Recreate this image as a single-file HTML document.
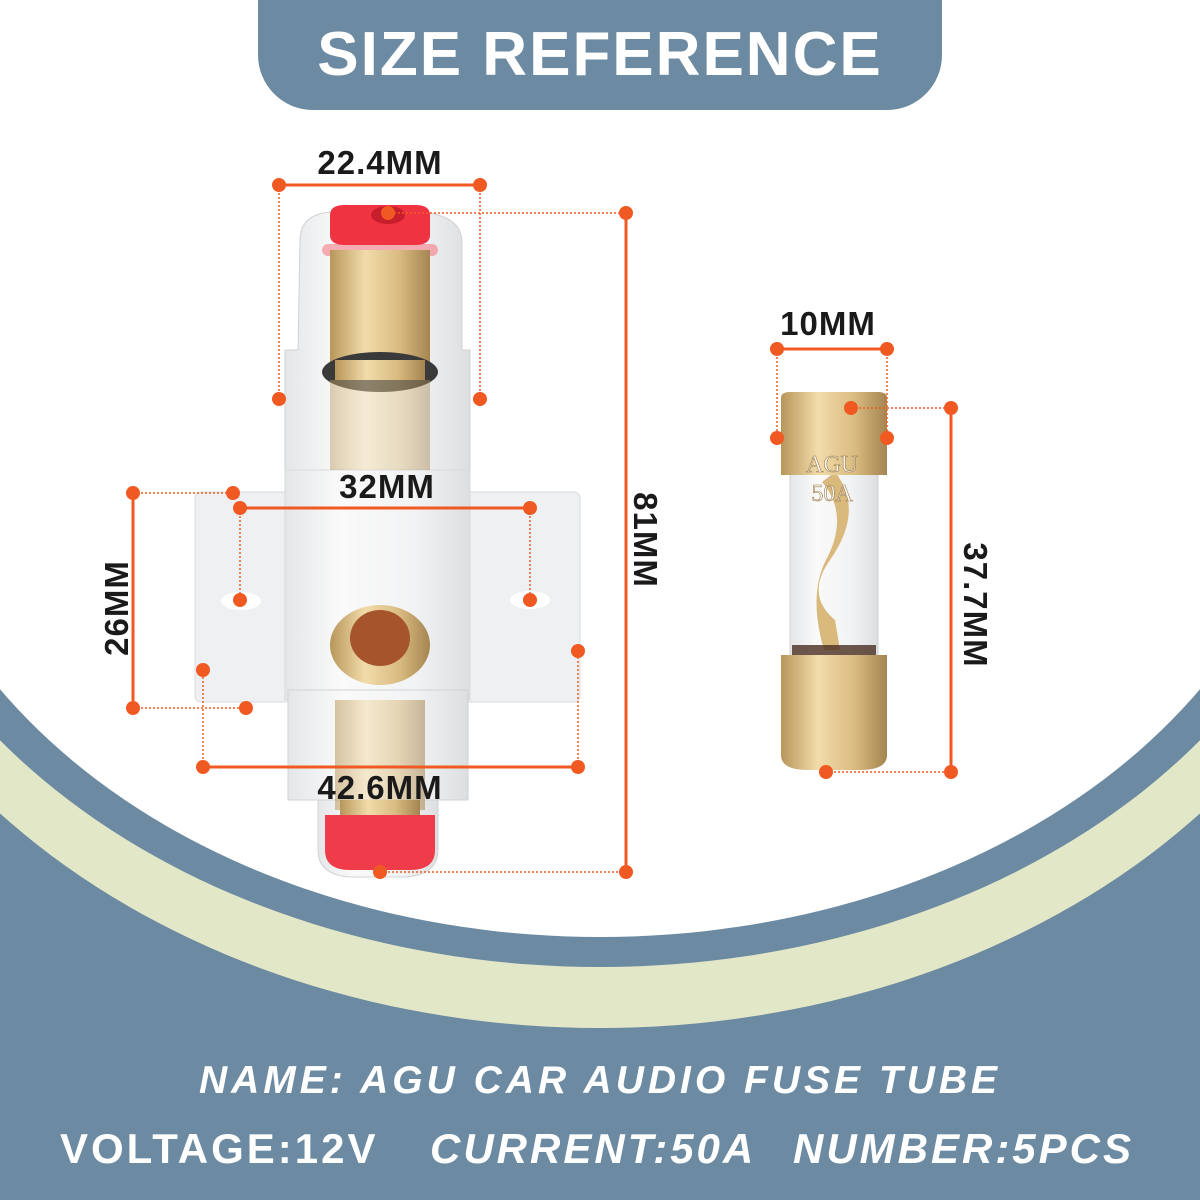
<!DOCTYPE html>
<html><head><meta charset="utf-8"><style>
html,body{margin:0;padding:0;width:1200px;height:1200px;overflow:hidden;background:#fff}
</style></head><body>
<svg width="1200" height="1200" viewBox="0 0 1200 1200" xmlns="http://www.w3.org/2000/svg" style="display:block">
<defs>
<linearGradient id="gold" x1="0" x2="1"><stop offset="0" stop-color="#b8965a"/><stop offset="0.35" stop-color="#f2dcaa"/><stop offset="0.7" stop-color="#d8bb80"/><stop offset="1" stop-color="#a58450"/></linearGradient>
<linearGradient id="glass" x1="0" x2="1"><stop offset="0" stop-color="#e4e6e8"/><stop offset="0.3" stop-color="#fafafa"/><stop offset="0.7" stop-color="#f2f3f4"/><stop offset="1" stop-color="#dcdee0"/></linearGradient>
</defs>
<rect width="1200" height="1200" fill="#6c8ba2"/>
<ellipse cx="600" cy="400" rx="797" ry="628" fill="#e2e7c8"/>
<ellipse cx="600" cy="400" rx="750" ry="567" fill="#6c8ba2"/>
<ellipse cx="600" cy="400" rx="712" ry="537" fill="#fff"/>
<rect x="0" y="0" width="1200" height="400" fill="#fff"/>
<!-- banner -->
<path d="M258 0 H942 V55 A55 55 0 0 1 887 110 H313 A55 55 0 0 1 258 55 Z" fill="#6c8ba2"/>
<text x="600" y="75" text-anchor="middle" font-family="Liberation Sans, sans-serif" font-weight="bold" font-size="62" letter-spacing="2" fill="#fff">SIZE REFERENCE</text>

<!-- fuse holder -->
<rect x="195" y="492" width="385" height="210" rx="6" fill="#eef0f2" stroke="#d8dbde"/>
<ellipse cx="241" cy="601" rx="20" ry="9" fill="#fff"/>
<ellipse cx="530" cy="600" rx="20" ry="9" fill="#fff"/>
<path d="M300 240 Q300 215 330 212 H420 Q460 215 462 240 V350 H470 V470 H285 V350 H298 Z" fill="url(#glass)" stroke="#d0d3d6"/>
<rect x="285" y="470" width="185" height="230" fill="url(#glass)" stroke="#d8dbde"/>
<rect x="288" y="690" width="180" height="110" fill="url(#glass)" stroke="#d0d3d6"/>
<path d="M318 800 H438 V850 Q438 875 405 877 H350 Q318 875 318 850 Z" fill="url(#glass)" stroke="#d0d3d6"/>
<rect x="322" y="244" width="116" height="12" rx="6" fill="#f58b96" opacity="0.7"/>
<rect x="330" y="250" width="100" height="120" fill="url(#gold)"/>
<ellipse cx="380" cy="372" rx="58" ry="20" fill="#3a3a3a"/>
<rect x="335" y="360" width="90" height="20" fill="url(#gold)"/>
<rect x="330" y="380" width="100" height="90" fill="url(#gold)" opacity="0.45"/>
<path d="M330 215 Q330 205 345 205 H415 Q430 205 430 215 V235 Q430 245 415 245 H345 Q330 245 330 235 Z" fill="#ef3340"/>
<ellipse cx="388" cy="215" rx="17" ry="9" fill="#c81e2c"/>
<ellipse cx="380" cy="645" rx="50" ry="40" fill="url(#gold)"/>
<ellipse cx="380" cy="638" rx="30" ry="28" fill="#a5542c"/>
<rect x="335" y="700" width="90" height="110" fill="url(#gold)" opacity="0.55"/>
<rect x="340" y="800" width="80" height="20" fill="url(#gold)"/>
<path d="M325 815 H435 V850 Q435 870 410 870 H350 Q325 870 325 850 Z" fill="#ef3b4a"/>

<!-- fuse -->
<rect x="790" y="472" width="88" height="185" fill="url(#glass)" stroke="#cfd2d4"/>
<path d="M835 472 Q865 510 830 560 Q805 595 835 620 L840 650 L824 650 Q808 595 826 560 Q850 515 822 482 Z" fill="#d9b97c"/>
<rect x="792" y="645" width="84" height="20" fill="#4a2e20" opacity="0.8"/>
<path d="M781 398 Q781 392 790 392 H878 Q887 392 887 398 V475 H781 Z" fill="url(#gold)"/>
<path d="M781 655 H887 V755 Q887 770 860 770 H808 Q781 770 781 755 Z" fill="url(#gold)"/>
<text x="832" y="472" text-anchor="middle" font-family="Liberation Serif, serif" font-size="24" fill="#fff" opacity="0.9">AGU</text>
<text x="832" y="501" text-anchor="middle" font-family="Liberation Serif, serif" font-size="24" fill="#fff" opacity="0.9">50A</text>
<text x="832" y="472" text-anchor="middle" font-family="Liberation Serif, serif" font-size="24" fill="none" stroke="#9a7a48" stroke-width="0.6">AGU</text>
<text x="832" y="501" text-anchor="middle" font-family="Liberation Serif, serif" font-size="24" fill="none" stroke="#9a7a48" stroke-width="0.6">50A</text>

<!-- dimension lines -->
<g stroke="#f05a22" fill="none">
<g stroke-width="3">
<line x1="279" y1="185" x2="480" y2="185"/>
<line x1="626" y1="213" x2="626" y2="872"/>
<line x1="240" y1="508" x2="530" y2="508"/>
<line x1="133" y1="493" x2="133" y2="708"/>
<line x1="203" y1="767" x2="578" y2="767"/>
<line x1="777" y1="349" x2="887" y2="349"/>
<line x1="951" y1="408" x2="951" y2="772"/>
</g>
<g stroke-width="1.5" stroke-dasharray="2 2">
<line x1="279" y1="185" x2="279" y2="399"/><line x1="480" y1="185" x2="480" y2="399"/>
<line x1="390" y1="213" x2="626" y2="213"/><line x1="380" y1="872" x2="626" y2="872"/>
<line x1="240" y1="508" x2="240" y2="600"/><line x1="530" y1="508" x2="530" y2="600"/>
<line x1="133" y1="493" x2="233" y2="493"/><line x1="133" y1="708" x2="246" y2="708"/>
<line x1="203" y1="767" x2="203" y2="670"/><line x1="578" y1="767" x2="578" y2="651"/>
<line x1="777" y1="349" x2="777" y2="438"/><line x1="887" y1="349" x2="887" y2="438"/>
<line x1="851" y1="408" x2="951" y2="408"/><line x1="826" y1="772" x2="951" y2="772"/>
</g>
</g>
<g fill="#f05a22">
<circle cx="279" cy="185" r="7"/><circle cx="480" cy="185" r="7"/><circle cx="279" cy="399" r="7"/><circle cx="480" cy="399" r="7"/>
<circle cx="388" cy="213" r="7"/><circle cx="626" cy="213" r="7"/><circle cx="380" cy="872" r="7"/><circle cx="626" cy="872" r="7"/>
<circle cx="240" cy="508" r="7"/><circle cx="530" cy="508" r="7"/><circle cx="240" cy="600" r="7"/><circle cx="530" cy="600" r="7"/>
<circle cx="133" cy="493" r="7"/><circle cx="233" cy="493" r="7"/><circle cx="133" cy="708" r="7"/><circle cx="246" cy="708" r="7"/>
<circle cx="203" cy="767" r="7"/><circle cx="578" cy="767" r="7"/><circle cx="203" cy="670" r="7"/><circle cx="578" cy="651" r="7"/>
<circle cx="777" cy="349" r="7"/><circle cx="887" cy="349" r="7"/><circle cx="777" cy="438" r="7"/><circle cx="887" cy="438" r="7"/>
<circle cx="851" cy="408" r="7"/><circle cx="951" cy="408" r="7"/><circle cx="826" cy="772" r="7"/><circle cx="951" cy="772" r="7"/>
</g>
<g font-family="Liberation Sans, sans-serif" font-weight="bold" font-size="33" fill="#1a1a1a" text-anchor="middle" letter-spacing="1">
<text x="380" y="174">22.4MM</text>
<text x="387" y="498">32MM</text>
<text x="380" y="799">42.6MM</text>
<text x="828" y="335">10MM</text>
<text transform="translate(634,540) rotate(90)">81MM</text>
<text transform="translate(128,608) rotate(-90)">26MM</text>
<text transform="translate(964,605) rotate(90)">37.7MM</text>
</g>
<!-- bottom text -->
<g font-family="Liberation Sans, sans-serif" font-weight="bold" fill="#fff">
<text x="600" y="1093" text-anchor="middle" font-style="italic" font-size="39" letter-spacing="4">NAME: AGU CAR AUDIO FUSE TUBE</text>
<text x="60" y="1163" font-size="42" letter-spacing="3">VOLTAGE:12V</text>
<text x="430" y="1163" font-size="42" font-style="italic" letter-spacing="3">CURRENT:50A</text>
<text x="793" y="1163" font-size="42" font-style="italic" letter-spacing="3">NUMBER:5PCS</text>
</g>
</svg>
</body></html>
